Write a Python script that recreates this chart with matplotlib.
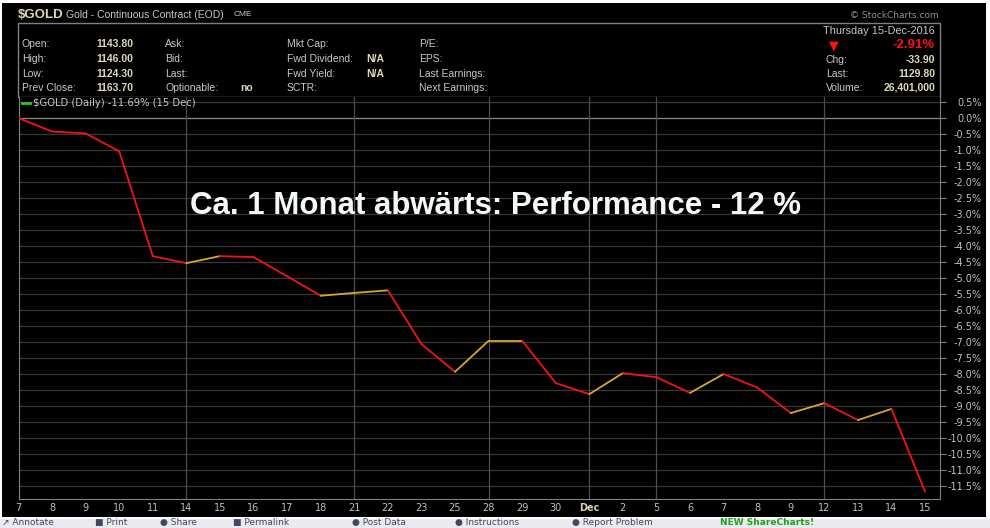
import numpy as np
import matplotlib
matplotlib.use('Agg')
import matplotlib.pyplot as plt
from matplotlib.patches import Rectangle

# Daten: $GOLD Tagesperformance in % (07.11. - 15.12.2016)
dates = ['7', '8', '9', '10', '11', '14', '15', '16', '17', '18', '21', '22', '23', '25',
         '28', '29', '30', 'Dec', '2', '5', '6', '7', '8', '9', '12', '13', '14', '15']
perf = [0.0, -0.42, -0.48, -1.04, -4.32, -4.54, -4.32, -4.35, -4.95, -5.56, -5.47, -5.39,
        -7.07, -7.94, -6.97, -6.97, -8.29, -8.64, -7.98, -8.11, -8.60, -8.01, -8.43, -9.23,
        -8.92, -9.45, -9.10, -11.69]
vgrid = [0, 5, 10, 14, 17, 19, 24]   # Wochenlinien (Index in dates)
yticks = np.arange(0.5, -11.6, -0.5)

# Kopfzeile
rows = ['Open:', 'High:', 'Low:', 'Prev Close:']
row_vals = ['1143.80', '1146.00', '1124.30', '1163.70']
col2 = ['Ask:', 'Bid:', 'Last:', 'Optionable:']
col3 = ['Mkt Cap:', 'Fwd Dividend:', 'Fwd Yield:', 'SCTR:']
col4 = ['P/E:', 'EPS:', 'Last Earnings:', 'Next Earnings:']

W, H = 990, 528
fig = plt.figure(figsize=(W / 100, H / 100), dpi=100, facecolor='white')

def fx(x):
    return x / W

def fy(y):
    return 1 - y / H

# schwarzer Hintergrund + Toolbar unten
fig.patches.append(Rectangle((fx(2), fy(517)), fx(984), 514 / H, transform=fig.transFigure,
                             facecolor='black', edgecolor='none', zorder=-2))
fig.patches.append(Rectangle((0, 0), 1, fy(519), transform=fig.transFigure,
                             facecolor='#e9ebee', edgecolor='none', zorder=-2))
fig.patches.append(Rectangle((fx(18), fy(97)), fx(922), 74 / H, transform=fig.transFigure,
                             facecolor='none', edgecolor='#808080', linewidth=1, zorder=-1))

lab = '#c8c8c8'
val = '#ddd8b8'
hf = 'Liberation Sans'
fig.text(fx(18), fy(15), '$GOLD', color=val, fontsize=9.5, fontweight='bold', family=hf, va='center')
fig.text(fx(66), fy(15), 'Gold - Continuous Contract (EOD)', color=lab, fontsize=7.5, family=hf, va='center')
fig.text(fx(234), fy(15), 'CME', color=lab, fontsize=6, family=hf, va='center')
fig.text(fx(939), fy(15), '\u00a9 StockCharts.com', color='#909090', fontsize=6.5, family='DejaVu Sans',
         va='center', ha='right')

row_y = [44, 59, 74, 88]
for i, y in enumerate(row_y):
    fig.text(fx(22), fy(y), rows[i], color=lab, fontsize=7.5, family=hf, va='center')
    fig.text(fx(133), fy(y), row_vals[i], color=val, fontsize=7.5, family=hf, va='center',
             ha='right', fontweight='bold')
    fig.text(fx(165), fy(y), col2[i], color=lab, fontsize=7.5, family=hf, va='center')
    fig.text(fx(287), fy(y), col3[i], color=lab, fontsize=7.5, family=hf, va='center')
    fig.text(fx(419), fy(y), col4[i], color=lab, fontsize=7.5, family=hf, va='center')
fig.text(fx(240), fy(88), 'no', color=val, fontsize=7.5, family=hf, va='center', fontweight='bold')
fig.text(fx(366), fy(59), 'N/A', color=val, fontsize=7.5, family=hf, va='center', fontweight='bold')
fig.text(fx(366), fy(74), 'N/A', color=val, fontsize=7.5, family=hf, va='center', fontweight='bold')

fig.text(fx(935), fy(31), 'Thursday 15-Dec-2016', color=lab, fontsize=7.8, family=hf, va='center', ha='right')
fig.text(fx(834), fy(46), '\u25bc', color='#ff1010', fontsize=9, family='DejaVu Sans', va='center', ha='center')
fig.text(fx(935), fy(45), '-2.91%', color='#ff1010', fontsize=9.5, family=hf, va='center', ha='right',
         fontweight='bold')
right_l = ['Chg:', 'Last:', 'Volume:']
right_v = ['-33.90', '1129.80', '26,401,000']
for i, y in enumerate([60, 74, 88]):
    fig.text(fx(826), fy(y), right_l[i], color=lab, fontsize=7.5, family=hf, va='center')
    fig.text(fx(935), fy(y), right_v[i], color=val, fontsize=7.5, family=hf, va='center', ha='right',
             fontweight='bold')

# Chart
ax = fig.add_axes([fx(18.5), fy(499), fx(939.5 - 18.5), (499 - 97) / H])
ax.set_facecolor('black')
x = np.arange(len(dates))
for yv in yticks:
    c = '#8a8a8a' if abs(yv) < 1e-9 else '#383838'
    ax.axhline(yv, color=c, linewidth=0.9, zorder=1)
for d in vgrid:
    ax.axvline(x[d], color='#4e4e4e', linewidth=0.9, zorder=1)

for i in range(len(perf) - 1):
    col = '#d9a52a' if perf[i + 1] >= perf[i] else '#f01414'
    ax.plot(x[i:i + 2], perf[i:i + 2], color=col, linewidth=1.3, zorder=3, solid_capstyle='round')

ax.set_xlim(0, 27.43)
ax.set_ylim(-11.92, 0.66)
ax.yaxis.tick_right()
ax.set_yticks(yticks)
ax.set_yticklabels(['%.1f%%' % v for v in yticks])
ax.set_xticks(x)
ax.set_xticklabels(dates)
ax.tick_params(axis='y', colors='#808080', labelcolor='#c0c0c0', labelsize=7, length=4, pad=1)
ax.tick_params(axis='x', colors='#808080', labelcolor='#c0c0c0', labelsize=7, length=0, pad=3)
for lbl in ax.get_yticklabels():
    lbl.set_horizontalalignment('right')
    lbl.set_x(1 + 35 / 921)
for lbl in ax.get_xticklabels():
    if lbl.get_text() == 'Dec':
        lbl.set_fontweight('bold')
        lbl.set_color('#d8d0a8')
for s in ['left', 'bottom', 'right']:
    ax.spines[s].set_color('#808080')
ax.spines['top'].set_visible(False)

# Legende
fig.lines.append(plt.Line2D([fx(22), fx(30)], [fy(103), fy(103)], transform=fig.transFigure,
                            color='#30c030', linewidth=2))
fig.text(fx(33), fy(103), '$GOLD (Daily) -11.69% (15 Dec)', color=lab, fontsize=7.2,
         family='DejaVu Sans', va='center')

ax.text(0.518, 0.73, 'Ca. 1 Monat abw\u00e4rts: Performance - 12 %', transform=ax.transAxes,
        color='#f4f8f4', fontsize=22.5, family='Liberation Sans', fontweight='bold',
        ha='center', va='center', zorder=5)

# Toolbar (im Original abgeschnitten)
tb = ['\u2197 Annotate', '\u25a0 Print', '\u25cf Share', '\u25a0 Permalink', '\u25cf Post Data',
      '\u25cf Instructions', '\u25cf Report Problem']
tb_x = [2, 95, 160, 233, 352, 455, 572]
for t, xx in zip(tb, tb_x):
    fig.text(fx(xx), fy(527), t, color='#444466', fontsize=6.5, family='DejaVu Sans', va='bottom')
fig.text(fx(720), fy(527), 'NEW ShareCharts!', color='#20a020', fontsize=6.5, family='DejaVu Sans',
         va='bottom', fontweight='bold')

fig.savefig('out.png', dpi=100, facecolor='white')
